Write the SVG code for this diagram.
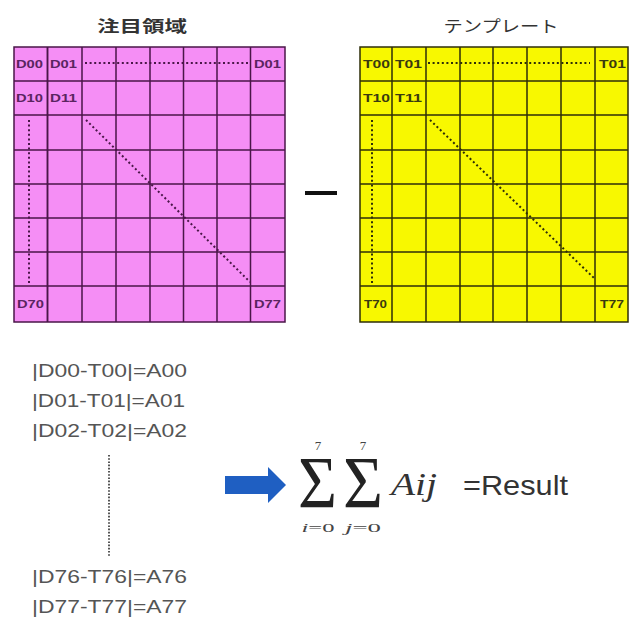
<svg xmlns="http://www.w3.org/2000/svg" width="639" height="619" viewBox="0 0 639 619">
<style>
.ttl{font-family:"Noto Sans CJK JP","Noto Sans CJK SC",sans-serif;font-size:16px;fill:#333}
.gp{stroke:#4a1648;stroke-width:1.5;fill:none}
.gy{stroke:#2e2e08;stroke-width:1.5;fill:none}
.lp{font-family:"Liberation Sans",Arial,sans-serif;font-size:11px;font-weight:bold;fill:#5a2460}
.ly{font-family:"Liberation Sans",Arial,sans-serif;font-size:11px;font-weight:bold;fill:#3a3a10}
.dp{stroke:#4a1648;stroke-width:2;stroke-dasharray:2 2.6;fill:none}
.dy{stroke:#2e2e08;stroke-width:2;stroke-dasharray:2 2.6;fill:none}
.lst{font-family:"Liberation Sans",Arial,sans-serif;font-size:18px;fill:#555}
.sig{font-family:"Liberation Serif","Times New Roman",serif;font-size:74px;fill:#222}
.sm{font-family:"Liberation Serif","Times New Roman",serif;font-size:13px;fill:#444}
</style>
<rect width="639" height="619" fill="#fff"/>

<g id="region-title"><text class="ttl" x="142" y="32" text-anchor="middle" font-weight="bold" textLength="90" lengthAdjust="spacingAndGlyphs">注目領域</text></g>
<g id="template-title"><text class="ttl" x="501" y="32" text-anchor="middle" textLength="115" lengthAdjust="spacingAndGlyphs">テンプレート</text></g>

<g id="region-grid">
<rect x="14" y="47" width="271" height="275" fill="#f58ef5"/>
<path class="gp" d="M47.5 47V322M82 47V322M116 47V322M150 47V322M183.5 47V322M217 47V322M250.5 47V322M14 81H285M14 150H285M14 184H285M14 218H285M14 252H285"/>
<path class="gp" stroke-width="2.2" d="M47.5 47V322M14 115H285M14 286H285"/>
<rect class="gp" stroke-width="2" x="14" y="47" width="271" height="275"/>
<text class="lp" x="16" y="68" textLength="27" lengthAdjust="spacingAndGlyphs">D00</text>
<text class="lp" x="50" y="68" textLength="27" lengthAdjust="spacingAndGlyphs">D01</text>
<text class="lp" x="254" y="68" textLength="27" lengthAdjust="spacingAndGlyphs">D01</text>
<text class="lp" x="16" y="102" textLength="27" lengthAdjust="spacingAndGlyphs">D10</text>
<text class="lp" x="50" y="102" textLength="27" lengthAdjust="spacingAndGlyphs">D11</text>
<text class="lp" x="17" y="308" textLength="27" lengthAdjust="spacingAndGlyphs">D70</text>
<text class="lp" x="254" y="308" textLength="27" lengthAdjust="spacingAndGlyphs">D77</text>
<path class="dp" d="M85 63H249M29 120V285M86 120L250 282"/>
</g>

<g id="minus"><path d="M305 193H337" stroke="#111" stroke-width="4"/></g>

<g id="template-grid">
<rect x="360" y="47" width="268" height="275" fill="#f8f800"/>
<path class="gy" d="M392 47V322M426 47V322M460 47V322M493 47V322M527 47V322M561 47V322M595 47V322M360 81H628M360 115H628M360 150H628M360 184H628M360 218H628M360 252H628"/>
<path class="gy" stroke-width="2.2" d="M360 286H628"/>
<rect class="gy" stroke-width="2" x="360" y="47" width="268" height="275"/>
<text class="ly" x="363" y="68" textLength="27" lengthAdjust="spacingAndGlyphs">T00</text>
<text class="ly" x="395" y="68" textLength="27" lengthAdjust="spacingAndGlyphs">T01</text>
<text class="ly" x="599" y="68" textLength="27" lengthAdjust="spacingAndGlyphs">T01</text>
<text class="ly" x="363" y="102" textLength="27" lengthAdjust="spacingAndGlyphs">T10</text>
<text class="ly" x="395" y="102" textLength="27" lengthAdjust="spacingAndGlyphs">T11</text>
<text class="ly" x="364" y="308" textLength="23" lengthAdjust="spacingAndGlyphs">T70</text>
<text class="ly" x="600" y="308" textLength="24" lengthAdjust="spacingAndGlyphs">T77</text>
<path class="dy" d="M428 63H590M372 120V285M430 120L595 279"/>
</g>

<g id="diff-list">
<text class="lst" x="32" y="377" textLength="155" lengthAdjust="spacingAndGlyphs">|D00-T00|=A00</text>
<text class="lst" x="32" y="407" textLength="153" lengthAdjust="spacingAndGlyphs">|D01-T01|=A01</text>
<text class="lst" x="32" y="437" textLength="155" lengthAdjust="spacingAndGlyphs">|D02-T02|=A02</text>
<path d="M109 455V557" stroke="#555" stroke-width="2" stroke-dasharray="1.6 1.6"/>
<text class="lst" x="32" y="583" textLength="155" lengthAdjust="spacingAndGlyphs">|D76-T76|=A76</text>
<text class="lst" x="32" y="613" textLength="155" lengthAdjust="spacingAndGlyphs">|D77-T77|=A77</text>
</g>

<g id="connectors">
<path d="M225 476H268V467L286 485L268 503V494H225Z" fill="#1f5fc2"/>
</g>

<g id="formula">
<text class="sig" x="298" y="508" textLength="39" lengthAdjust="spacingAndGlyphs">Σ</text>
<text class="sig" x="343" y="508" textLength="40" lengthAdjust="spacingAndGlyphs">Σ</text>
<text class="sm" x="318" y="450" text-anchor="middle">7</text>
<text class="sm" x="363" y="450" text-anchor="middle">7</text>
<text class="sm" x="318" y="532" text-anchor="middle" textLength="33" lengthAdjust="spacingAndGlyphs"><tspan font-style="italic">i</tspan>=0</text>
<text class="sm" x="363" y="532" text-anchor="middle" textLength="36" lengthAdjust="spacingAndGlyphs"><tspan font-style="italic">j</tspan>=0</text>
<text x="391" y="495" font-family="'Liberation Serif','Times New Roman',serif" font-style="italic" font-size="32" fill="#333" textLength="46" lengthAdjust="spacingAndGlyphs">Aij</text>
</g>

<g id="result"><text x="463" y="495" font-family="'Liberation Sans',Arial,sans-serif" font-size="28" fill="#333" textLength="105" lengthAdjust="spacingAndGlyphs">=Result</text></g>
</svg>
